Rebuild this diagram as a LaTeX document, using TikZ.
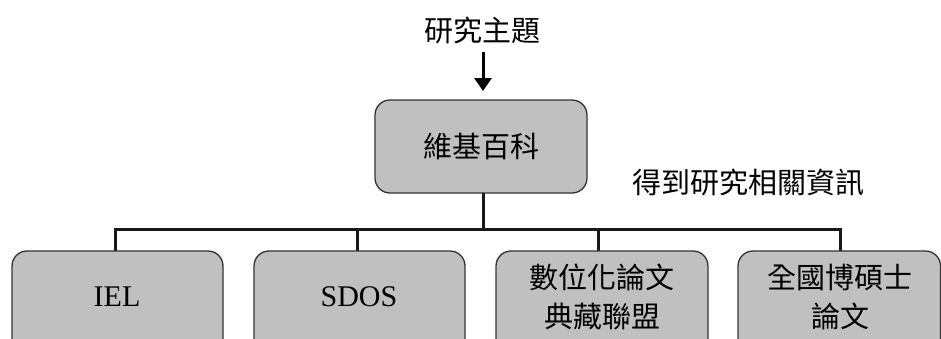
\documentclass[tikz,border=0pt]{standalone}
\usepackage{fontspec}
\setmainfont{Liberation Serif}
\newfontfamily\cjk{Noto Sans CJK TC}
\usetikzlibrary{arrows.meta}
\definecolor{boxgray}{HTML}{C0C0C0}
\definecolor{edgegray}{HTML}{333333}
\tikzset{
  x=1pt, y=-1pt,
  rbox/.style={draw=edgegray, line width=1.3pt, fill=boxgray, rounded corners=15pt},
  conn/.style={draw=black!90, line width=3pt},
  lbl/.style={font=\fontsize{29}{39}\selectfont\cjk, inner sep=0pt, align=center},
  latin/.style={font=\fontsize{30}{34}\selectfont, inner sep=0pt},
}
\begin{document}
\begin{tikzpicture}
\useasboundingbox (0,0) rectangle (941,338);
\clip (0,0) rectangle (941,338);
% top text and arrow
\node[lbl] (topic) at (482,31) {研究主題};
\coordinate (arrs) at (483,52);
% main box
\draw[rbox] (375,100) rectangle (587,193);
\node[lbl] (wiki) at (481,146) {維基百科};
\draw[line width=3pt, -{Triangle[length=13pt,width=17pt]}] (arrs) -- (483,91);
% label
\node[lbl] (info) at (748,182) {得到研究相關資訊};
% connectors
\coordinate (mb) at (483,193);
\coordinate (hj) at (483,229);
\coordinate (h1) at (115,229);
\coordinate (h4) at (840,229);
\draw[conn] (mb) -- (hj);
\draw[conn, line cap=rect] (115,251) -- (h1) -- (h4) -- (840,251);
\draw[conn] (357,229) -- (357,251);
\draw[conn] (598,229) -- (598,251);
% bottom boxes
\draw[rbox] (12,251) rectangle (223,360);
\draw[rbox] (254,251) rectangle (465,360);
\draw[rbox] (496,251) rectangle (708,360);
\draw[rbox] (738,251) rectangle (940.5,360);
\node[latin] (iel) at (117,297) {IEL};
\node[latin] (sdos) at (359,297) {SDOS};
\node[lbl] (etd) at (602,297) {數位化論文\\典藏聯盟};
\node[lbl] (ntd) at (840,297) {全國博碩士\\論文};
\end{tikzpicture}
\end{document}
